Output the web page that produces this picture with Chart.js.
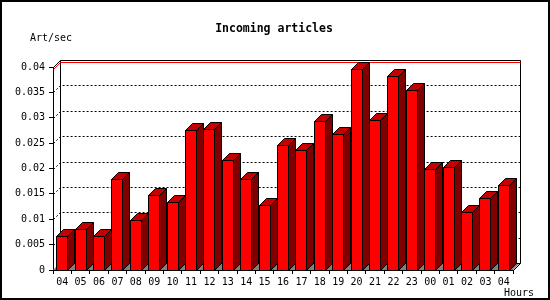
<!DOCTYPE html>
<html>
<head>
<meta charset="utf-8">
<title>Incoming articles</title>
<script src="https://cdn.jsdelivr.net/npm/chart.js@4.4.0/dist/chart.umd.min.js"></script>
<style>
  html, body { margin: 0; padding: 0; background: #fff; }
  #chart { display: block; }
</style>
</head>
<body>
<canvas id="chart" width="550" height="300"></canvas>
<script>
// Hours along the bottom, oldest first
const hours = ['04', '05', '06', '07', '08', '09', '10', '11', '12', '13', '14', '15', '16',
  '17', '18', '19', '20', '21', '22', '23', '00', '01', '02', '03', '04'];

// Incoming articles per second, one value per hour
const artPerSec = [0.0067, 0.0081, 0.0067, 0.0179, 0.0098, 0.0147, 0.0134, 0.0275, 0.0277,
  0.0216, 0.0179, 0.0128, 0.0246, 0.0236, 0.0293, 0.0268, 0.0396, 0.0295, 0.0382, 0.0355,
  0.0200, 0.0202, 0.0114, 0.0141, 0.0167];

// Y axis range and tick step
const yRange = [0, 0.04];
const yStep = 0.005;

const DEPTH = 7; // 3D offset of the back wall and bar depth
const FONT = '"DejaVu Sans Mono", "Liberation Mono", monospace';

// Fill a polygon and outline it in black
function shape(ctx, pts, fill) {
  ctx.beginPath();
  ctx.moveTo(pts[0][0], pts[0][1]);
  for (let i = 1; i < pts.length; i++) ctx.lineTo(pts[i][0], pts[i][1]);
  ctx.closePath();
  ctx.fillStyle = fill;
  ctx.fill();
  ctx.strokeStyle = '#000';
  ctx.lineWidth = 1;
  ctx.stroke();
}

function line(ctx, pts, color) {
  ctx.beginPath();
  ctx.moveTo(pts[0][0], pts[0][1]);
  for (let i = 1; i < pts.length; i++) ctx.lineTo(pts[i][0], pts[i][1]);
  ctx.strokeStyle = color;
  ctx.lineWidth = 1;
  ctx.stroke();
}

// Draws the box (floor, walls, grid, max line), the 3D bars and the loose texts
const frame3d = {
  id: 'frame3d',
  beforeDatasetsDraw(chart) {
    const { ctx, chartArea: a, scales: { y } } = chart;
    const d = DEPTH;
    ctx.save();

    // floor
    ctx.beginPath();
    ctx.moveTo(a.left, a.bottom);
    ctx.lineTo(a.right, a.bottom);
    ctx.lineTo(a.right + d, a.bottom - d);
    ctx.lineTo(a.left + d, a.bottom - d);
    ctx.closePath();
    ctx.fillStyle = '#808080';
    ctx.fill();

    // dotted grid across side wall and back wall
    ctx.setLineDash([2, 2]);
    y.ticks.forEach(t => {
      if (t.value <= y.min || t.value >= y.max) return;
      const py = Math.round(y.getPixelForValue(t.value)) + 0.5;
      line(ctx, [[a.left + 0.5, py], [a.left + d + 0.5, py - d], [a.right + d + 0.5, py - d]], '#000');
    });
    ctx.setLineDash([]);

    // back wall outline
    const L = a.left + 0.5, R = a.right + 0.5, T = a.top + 0.5, B = a.bottom + 0.5;
    line(ctx, [[L, T], [L + d, T - d], [R + d, T - d], [R + d, B - d], [R, B]], '#000');
    line(ctx, [[L + d, T - d], [L + d, B - d], [R + d, B - d]], '#000');

    // max value line
    const peak = Math.round(y.getPixelForValue(Math.max(...artPerSec))) + 0.5;
    line(ctx, [[L, peak], [L + d, peak - d], [R + d, peak - d]], '#ff0000');

    ctx.restore();
  },
  afterDatasetsDraw(chart) {
    const { ctx } = chart;
    const d = DEPTH;
    ctx.save();
    chart.getDatasetMeta(0).data.forEach(bar => {
      const l = Math.floor(bar.x - bar.width / 2) + 0.5;
      const r = Math.floor(bar.x + bar.width / 2) + 0.5;
      const t = Math.round(bar.y) + 0.5;
      const b = Math.round(bar.base) + 0.5;
      shape(ctx, [[l, t], [r, t], [r, b], [l, b]], '#ff0000');
      shape(ctx, [[r, t], [r + d, t - d], [r + d, b - d], [r, b]], '#800000');
      shape(ctx, [[l, t], [l + d, t - d], [r + d, t - d], [r, t]], '#c40000');
    });
    ctx.restore();
  },
  afterDraw(chart) {
    const { ctx } = chart;
    ctx.save();
    ctx.fillStyle = '#000';
    ctx.textBaseline = 'alphabetic';

    ctx.font = 'bold 11.5px ' + FONT;
    ctx.textAlign = 'center';
    ctx.fillText('Incoming articles', 274, 32);

    ctx.font = '10px ' + FONT;
    ctx.textAlign = 'left';
    ctx.fillText('Art/sec', 30, 41);
    ctx.fillText('Hours', 504, 296);

    // outer frame
    ctx.strokeStyle = '#000';
    ctx.lineWidth = 2;
    ctx.strokeRect(1, 1, 548, 298);
    ctx.restore();
  }
};

new Chart(document.getElementById('chart'), {
  type: 'bar',
  data: {
    labels: hours,
    datasets: [{
      label: 'Art/sec',
      data: artPerSec,
      backgroundColor: '#ff0000',
      borderWidth: 0,
      categoryPercentage: 1,
      barPercentage: 0.6
    }]
  },
  options: {
    responsive: false,
    animation: false,
    devicePixelRatio: 1,
    layout: { padding: { left: 8, right: 37, top: 67, bottom: 0 } },
    plugins: {
      legend: { display: false },
      tooltip: { enabled: false }
    },
    scales: {
      x: {
        afterFit: s => { s.height = 30; },
        grid: { drawOnChartArea: false, tickLength: 4, color: '#000', offset: true },
        border: { display: true, color: '#000' },
        ticks: { color: '#000', padding: 2, maxRotation: 0, autoSkip: false, font: { family: FONT, size: 10 } }
      },
      y: {
        min: yRange[0],
        max: yRange[1],
        afterFit: s => { s.width = 45; },
        grid: { drawOnChartArea: false, tickLength: 4, color: '#000' },
        border: { display: true, color: '#000' },
        ticks: {
          stepSize: yStep,
          color: '#000',
          padding: 4,
          font: { family: FONT, size: 10 },
          callback: v => String(+v.toFixed(3))
        }
      }
    }
  },
  plugins: [frame3d]
});
</script>
</body>
</html>
